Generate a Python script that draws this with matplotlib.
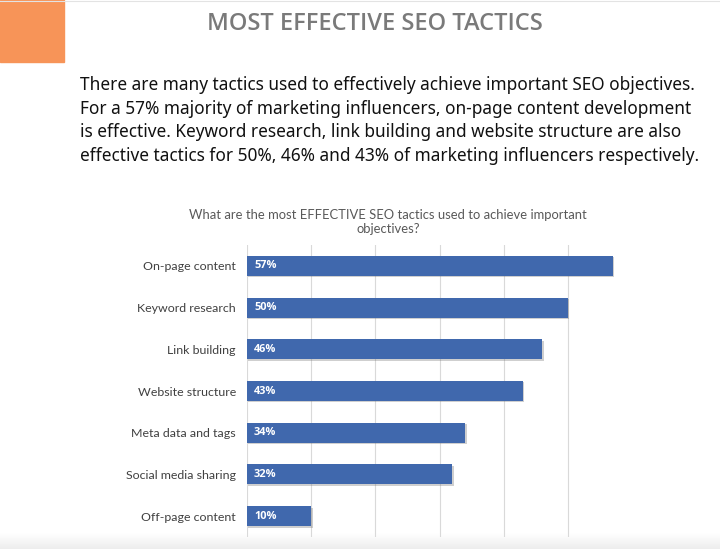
import numpy as np
import matplotlib.pyplot as plt
from matplotlib.patches import Rectangle
from matplotlib.colors import LinearSegmentedColormap
import matplotlib.patheffects as pe

categories = ['On-page content', 'Keyword research', 'Link building', 'Website structure',
              'Meta data and tags', 'Social media sharing', 'Off-page content']
values = [57, 50, 46, 43, 34, 32, 10]

header = 'MOST EFFECTIVE SEO TACTICS'
body = ('There are many tactics used to effectively achieve important SEO objectives.\n'
        'For a 57% majority of marketing influencers, on-page content development\n'
        'is effective. Keyword research, link building and website structure are also\n'
        'effective tactics for 50%, 46% and 43% of marketing influencers respectively.')
chart_title = 'What are the most EFFECTIVE SEO tactics used to achieve important\nobjectives?'

fig = plt.figure(figsize=(7.2, 5.49), dpi=100)
W, H = 720, 549

# orange block and top line
fig.patches.append(Rectangle((0, 1 - 62 / H), 64 / W, 62 / H, transform=fig.transFigure,
                             color='#f79458', zorder=0))
fig.add_artist(plt.Line2D([0, 1], [0.999, 0.999], color='#e3e3e3', lw=0.8))

# bottom gradient band
gax = fig.add_axes([0, 0, 1, 16 / H], zorder=-1)
cmap = LinearSegmentedColormap.from_list('band', ['#ededed', '#ffffff'])
grad = np.linspace(0, 1, 50).reshape(-1, 1)
gax.imshow(grad, aspect='auto', cmap=cmap, extent=[0, 1, 0, 1], origin='lower')
gax.axis('off')

fig.text(375 / W, 1 - 24 / H, header, ha='center', va='center', fontsize=17,
         color='#7a7a7a', family='Open Sans', fontweight='semibold')
fig.text(80 / W, 1 - 76 / H, body, ha='left', va='top', fontsize=12.4,
         color='#111111', family='Noto Sans', linespacing=1.4)
fig.text(388 / W, 1 - 222 / H, chart_title, ha='center', va='center', fontsize=9.4,
         color='#595959', family='Lato', linespacing=1.2)

ax = fig.add_axes([247 / W, 1 - 537 / H, (632 - 247) / W, (537 - 245) / H])
ax.patch.set_alpha(0)
y = np.arange(len(categories))
bars = ax.barh(y, values, height=0.48, color='#4068ad', zorder=3)
for b in bars:
    b.set_path_effects([pe.SimplePatchShadow(offset=(1, -1), shadow_rgbFace='#777777', alpha=0.35),
                        pe.Normal()])
for yi, v in zip(y, values):
    ax.text(1.1, yi, f'{v}%', ha='left', va='center', color='white', fontsize=7.9,
            fontweight='bold', family='Open Sans', zorder=4)

ax.set_xlim(0, 60)
ax.set_ylim(len(categories) - 0.5, -0.5)
ax.set_xticks([0, 10, 20, 30, 40, 50])
ax.set_xticklabels([])
ax.set_yticks(y)
ax.set_yticklabels(categories, family='Lato', fontsize=8.9, color='#404040')
ax.tick_params(axis='y', length=0, pad=8)
ax.tick_params(axis='x', length=0)
ax.grid(axis='x', color='#d9d9d9', lw=0.8, zorder=0)
for s in ax.spines.values():
    s.set_visible(False)

fig.savefig('out.png', dpi=100)
